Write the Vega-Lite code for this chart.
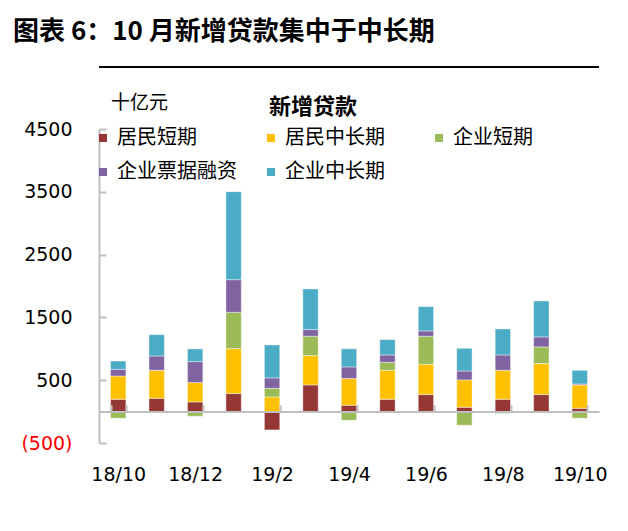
{
  "$schema": "https://vega.github.io/schema/vega-lite/v6.json",
  "width": 500,
  "height": 314,
  "autosize": {"type": "none"},
  "padding": {"left": 99, "top": 129, "right": 29, "bottom": 88},
  "background": "white",
  "config": {"view": {"stroke": null}},
  "title": {
    "text": "图表 6：10 月新增贷款集中于中长期",
    "anchor": "start",
    "frame": "group",
    "dx": -86,
    "offset": 21,
    "font": "Noto Sans CJK SC",
    "fontSize": 26,
    "fontWeight": "bold",
    "color": "black"
  },
  "data": {
    "values": [
      {"month": "18/10", "type": "居民短期", "ord": 0, "value": 196},
      {"month": "18/10", "type": "居民中长期", "ord": 1, "value": 371},
      {"month": "18/10", "type": "企业短期", "ord": 2, "value": -106},
      {"month": "18/10", "type": "企业票据融资", "ord": 3, "value": 106},
      {"month": "18/10", "type": "企业中长期", "ord": 4, "value": 133},
      {"month": "18/11", "type": "居民短期", "ord": 0, "value": 212},
      {"month": "18/11", "type": "居民中长期", "ord": 1, "value": 446},
      {"month": "18/11", "type": "企业短期", "ord": 2, "value": 0},
      {"month": "18/11", "type": "企业票据融资", "ord": 3, "value": 228},
      {"month": "18/11", "type": "企业中长期", "ord": 4, "value": 340},
      {"month": "18/12", "type": "居民短期", "ord": 0, "value": 154},
      {"month": "18/12", "type": "居民中长期", "ord": 1, "value": 308},
      {"month": "18/12", "type": "企业短期", "ord": 2, "value": -74},
      {"month": "18/12", "type": "企业票据融资", "ord": 3, "value": 334},
      {"month": "18/12", "type": "企业中长期", "ord": 4, "value": 202},
      {"month": "19/1", "type": "居民短期", "ord": 0, "value": 287},
      {"month": "19/1", "type": "居民中长期", "ord": 1, "value": 716},
      {"month": "19/1", "type": "企业短期", "ord": 2, "value": 578},
      {"month": "19/1", "type": "企业票据融资", "ord": 3, "value": 520},
      {"month": "19/1", "type": "企业中长期", "ord": 4, "value": 1401},
      {"month": "19/2", "type": "居民短期", "ord": 0, "value": -292},
      {"month": "19/2", "type": "居民中长期", "ord": 1, "value": 233},
      {"month": "19/2", "type": "企业短期", "ord": 2, "value": 138},
      {"month": "19/2", "type": "企业票据融资", "ord": 3, "value": 165},
      {"month": "19/2", "type": "企业中长期", "ord": 4, "value": 525},
      {"month": "19/3", "type": "居民短期", "ord": 0, "value": 425},
      {"month": "19/3", "type": "居民中长期", "ord": 1, "value": 467},
      {"month": "19/3", "type": "企业短期", "ord": 2, "value": 308},
      {"month": "19/3", "type": "企业票据融资", "ord": 3, "value": 106},
      {"month": "19/3", "type": "企业中长期", "ord": 4, "value": 647},
      {"month": "19/4", "type": "居民短期", "ord": 0, "value": 101},
      {"month": "19/4", "type": "居民中长期", "ord": 1, "value": 425},
      {"month": "19/4", "type": "企业短期", "ord": 2, "value": -138},
      {"month": "19/4", "type": "企业票据融资", "ord": 3, "value": 186},
      {"month": "19/4", "type": "企业中长期", "ord": 4, "value": 287},
      {"month": "19/5", "type": "居民短期", "ord": 0, "value": 196},
      {"month": "19/5", "type": "居民中长期", "ord": 1, "value": 462},
      {"month": "19/5", "type": "企业短期", "ord": 2, "value": 127},
      {"month": "19/5", "type": "企业票据融资", "ord": 3, "value": 117},
      {"month": "19/5", "type": "企业中长期", "ord": 4, "value": 244},
      {"month": "19/6", "type": "居民短期", "ord": 0, "value": 271},
      {"month": "19/6", "type": "居民中长期", "ord": 1, "value": 483},
      {"month": "19/6", "type": "企业短期", "ord": 2, "value": 446},
      {"month": "19/6", "type": "企业票据融资", "ord": 3, "value": 85},
      {"month": "19/6", "type": "企业中长期", "ord": 4, "value": 387},
      {"month": "19/7", "type": "居民短期", "ord": 0, "value": 69},
      {"month": "19/7", "type": "居民中长期", "ord": 1, "value": 435},
      {"month": "19/7", "type": "企业短期", "ord": 2, "value": -218},
      {"month": "19/7", "type": "企业票据融资", "ord": 3, "value": 143},
      {"month": "19/7", "type": "企业中长期", "ord": 4, "value": 361},
      {"month": "19/8", "type": "居民短期", "ord": 0, "value": 196},
      {"month": "19/8", "type": "居民中长期", "ord": 1, "value": 462},
      {"month": "19/8", "type": "企业短期", "ord": 2, "value": -30},
      {"month": "19/8", "type": "企业票据融资", "ord": 3, "value": 244},
      {"month": "19/8", "type": "企业中长期", "ord": 4, "value": 414},
      {"month": "19/9", "type": "居民短期", "ord": 0, "value": 271},
      {"month": "19/9", "type": "居民中长期", "ord": 1, "value": 494},
      {"month": "19/9", "type": "企业短期", "ord": 2, "value": 265},
      {"month": "19/9", "type": "企业票据融资", "ord": 3, "value": 159},
      {"month": "19/9", "type": "企业中长期", "ord": 4, "value": 573},
      {"month": "19/10", "type": "居民短期", "ord": 0, "value": 53},
      {"month": "19/10", "type": "居民中长期", "ord": 1, "value": 371},
      {"month": "19/10", "type": "企业短期", "ord": 2, "value": -106},
      {"month": "19/10", "type": "企业票据融资", "ord": 3, "value": 15},
      {"month": "19/10", "type": "企业中长期", "ord": 4, "value": 218}
    ]
  },
  "layer": [
    {
      "mark": {"type": "bar", "stroke": "white", "strokeWidth": 0.6, "strokeOpacity": 0.7},
      "encoding": {
        "x": {
          "field": "month",
          "type": "ordinal",
          "sort": null,
          "scale": {"paddingInner": 0.6, "paddingOuter": 0.3},
          "axis": {
            "orient": "bottom",
            "offset": -31.4,
            "values": ["18/10", "18/12", "19/2", "19/4", "19/6", "19/8", "19/10"],
            "tickBand": "extent",
            "title": null,
            "labelAngle": 0,
            "domainColor": "#bfbfbf",
            "domainWidth": 2,
            "tickColor": "#bfbfbf",
            "tickWidth": 2,
            "tickSize": -7,
            "labelFont": "DejaVu Sans",
            "labelFontSize": 19,
            "labelColor": "black",
            "labelPadding": 70,
            "labelBaseline": "middle",
            "zindex": 1
          }
        },
        "y": {
          "field": "value",
          "type": "quantitative",
          "stack": "zero",
          "scale": {"domain": [-500, 4500], "nice": false, "zero": false},
          "axis": {
            "values": [-500, 500, 1500, 2500, 3500, 4500],
            "title": "十亿元",
            "titleAngle": 0,
            "titleX": 40,
            "titleY": -27,
            "titleAlign": "center",
            "titleBaseline": "middle",
            "titleFont": "Noto Sans CJK SC",
            "titleFontSize": 19,
            "titleFontWeight": "normal",
            "titleColor": "black",
            "labelExpr": "datum.value < 0 ? '(' + format(-datum.value, 'd') + ')' : format(datum.value, 'd')",
            "labelColor": {"condition": {"test": "datum.value < 0", "value": "#ff0000"}, "value": "black"},
            "labelFont": "DejaVu Sans",
            "labelFontSize": 19,
            "labelPadding": 34,
            "domainColor": "#bfbfbf",
            "domainWidth": 2,
            "tickColor": "#bfbfbf",
            "tickWidth": 2,
            "tickSize": -7,
            "grid": false
          }
        },
        "color": {
          "field": "type",
          "type": "nominal",
          "scale": {
            "domain": ["居民短期", "居民中长期", "企业短期", "企业票据融资", "企业中长期"],
            "range": ["#953735", "#ffc000", "#9bbb59", "#8064a2", "#4bacc6"]
          },
          "legend": {
            "orient": "none",
            "legendX": -6,
            "legendY": -32,
            "direction": "horizontal",
            "columns": 3,
            "gridAlign": "all",
            "symbolType": "square",
            "symbolSize": 64,
            "symbolStrokeWidth": 0,
            "labelFont": "Noto Sans CJK SC",
            "labelFontSize": 20,
            "labelColor": "black",
            "labelOffset": 4,
            "labelLimit": 0,
            "columnPadding": 24,
            "rowPadding": 14,
            "title": "新增贷款",
            "titleFont": "Noto Sans CJK SC",
            "titleFontSize": 22,
            "titleFontWeight": "bold",
            "titleAnchor": "middle",
            "titlePadding": 9,
            "titleColor": "black"
          }
        },
        "order": {"field": "ord", "type": "quantitative"}
      }
    },
    {
      "mark": {"type": "rule", "color": "black", "strokeWidth": 1.5, "clip": false},
      "encoding": {"y": {"datum": 5487}}
    }
  ]
}
